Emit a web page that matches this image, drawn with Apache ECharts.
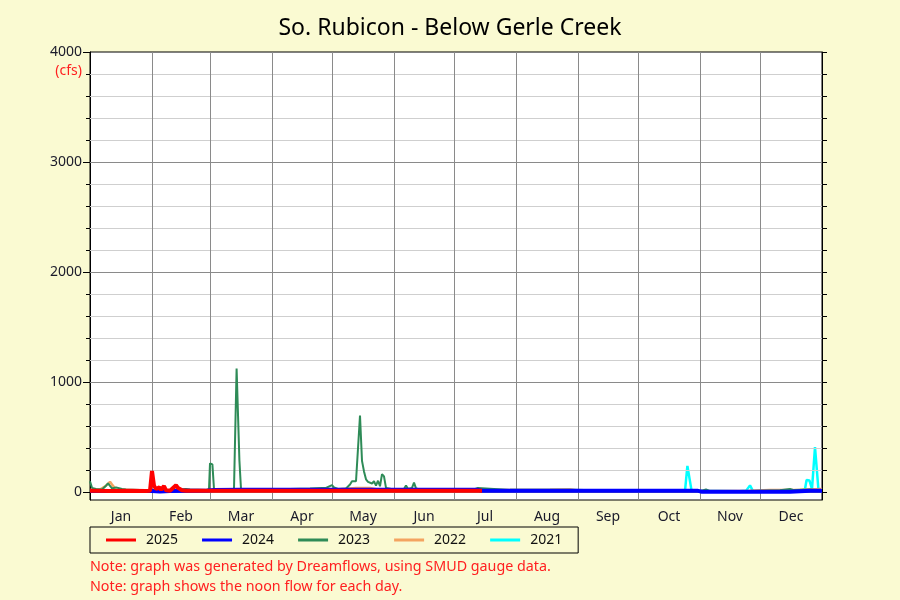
<!DOCTYPE html>
<html><head><meta charset="utf-8">
<script src="https://cdn.jsdelivr.net/npm/echarts@6/dist/echarts.min.js"></script>
<style>html,body{margin:0;padding:0;background:#fafad2}#c{width:900px;height:600px}</style>
</head><body><div id="c"></div>
<script>
const monthNames = ['Jan','Feb','Mar','Apr','May','Jun','Jul','Aug','Sep','Oct','Nov','Dec'];
const monthStarts = [0,31,60,91,121,152,182,213,244,274,305,335,366];
const monthMids = [15.5,45.5,75.5,106,136.5,167,197.5,228.5,259,289.5,320,350.5];
const yLabelValues = [0,1000,2000,3000,4000];
const yMinorValues = [0,200,400,600,800,1000,1200,1400,1600,1800,2000,2200,2400,2600,2800,3000,3200,3400,3600,3800,4000];
const seriesNames = ['2025','2024','2023','2022','2021'];

const days2025 = [0,10,20,28,30,31,32,33,34.7,35.5,37,38,40,43,44,46,48,55,59,70,90,120,150,170,196];
const flow2025 = [13,12,13,12,14,193,60,30,45,22,57,18,14,63,40,18,14,13,14,13,13,13,13,13,13];

const days2024 = [0,20,31,35,40,59,62,75,90,120,150,180,194,196,230,260,290,304,306,320,335,350,360,366];
const flow2024 = [12,11,12,8,12,16,20,23,23,23,22,22,22,14,14,13,13,13,5,4,5,6,14,14];

const days2023 = [0,1,3,6,8,9,11,13,16,18,25,40,48,50,58,59.5,60,61.2,62,64,68,69,70,72,73.3,74.2,74.7,75.5,80,90,100,110,116,117,118,121,122,124,128,130,131,132,133,134,135,136,137,138,139,140,141,142,143,144,145,146,147,148,149,152,157,158,159,161,162,163,165,170,180,192,194,195,210,240,270,300,305,308,310,330,345,350,352,360,366];
const flow2023 = [100,40,30,25,60,80,35,45,30,25,20,20,30,25,20,30,263,254,30,25,30,40,25,30,1125,1115,290,30,25,30,30,35,40,55,40,66,45,30,35,70,100,90,100,90,698,285,190,118,95,95,80,100,60,105,55,165,145,40,25,25,30,63,30,40,88,35,25,25,22,25,40,25,22,22,15,12,10,25,10,12,18,30,20,25,15];

const days2022 = [0,5,8,10,11,13,20,60,120,133,140,145,200,230,240,243,300,330,340,355,366];
const flow2022 = [20,25,60,95,70,25,18,18,20,40,40,20,20,22,25,18,12,14,20,22,30];

const days2021 = [0,60,180,240,295,297.5,298.7,299.7,300.8,325,328,330,331.5,350,356,357.5,358.3,359.7,361,361.8,362.5,363.3,364.2,366];
const flow2021 = [12,12,10,10,12,13,240,232,13,10,13,63,10,12,18,30,112,108,30,40,411,408,30,25];

const pairs = (d, v) => d.map((x, i) => [x, v[i]]);

const notes = [
  'Note: graph was generated by Dreamflows, using SMUD gauge data.',
  'Note: graph shows the noon flow for each day.'
];
const FONT = 'Noto Sans';

const gridLines = [];
yMinorValues.forEach(v => {
  if (v === 4000) return;
  gridLines.push({ yAxis: v, lineStyle: { color: v % 1000 === 0 ? '#8a8a8a' : '#cfcfcf', width: 1, type: 'solid' } });
});
monthStarts.forEach(d => {
  if (d === 0 || d === 366) return;
  gridLines.push({ xAxis: d, lineStyle: { color: '#8a8a8a', width: 1, type: 'solid' } });
});

const lineSeries = (name, data, color, width, z) => ({
  name, type: 'line', data, showSymbol: false, symbol: 'none', z,
  lineStyle: { color, width }, itemStyle: { color }, animation: false,
  xAxisIndex: 0, yAxisIndex: 0
});

const chart = echarts.init(document.getElementById('c'), null, { renderer: 'canvas' });
chart.setOption({
  backgroundColor: '#fafad2',
  animation: false,
  textStyle: { fontFamily: FONT },
  title: {
    text: 'So. Rubicon - Below Gerle Creek', left: 'center', top: 12,
    textStyle: { fontFamily: FONT, fontSize: 23, fontWeight: 'normal', color: '#000' }
  },
  grid: { left: 90, right: 78, top: 52, bottom: 100, show: true, backgroundColor: '#ffffff', borderColor: '#000', borderWidth: 1 },
  legend: {
    left: 90, top: 527, orient: 'horizontal',
    padding: [6, 16, 6, 16], itemGap: 24, itemWidth: 30, itemHeight: 3, icon: 'rect',
    borderColor: '#000', borderWidth: 1, borderRadius: 0,
    textStyle: { fontFamily: FONT, fontSize: 14, color: '#111', padding: [0, 0, 0, 5] },
    data: seriesNames
  },
  xAxis: [{
    type: 'value', min: 0, max: 366,
    axisLine: { show: true, lineStyle: { color: '#000', width: 1 } },
    axisTick: { show: true, customValues: monthStarts, length: 6, lineStyle: { color: '#000' } },
    axisLabel: { show: true, customValues: monthMids, margin: 10, fontFamily: FONT, fontSize: 14, color: '#1a1a2a',
      formatter: v => monthNames[monthMids.indexOf(v)] || '' },
    splitLine: { show: false }
  }],
  yAxis: [{
    type: 'value', min: -70, max: 4000, position: 'left',
    axisLine: { show: true, lineStyle: { color: '#000', width: 1 } },
    axisTick: { show: true, customValues: yLabelValues, length: 7, lineStyle: { color: '#000' } },
    axisLabel: { show: true, customValues: yLabelValues, margin: 8, fontFamily: FONT, fontSize: 14, color: '#1a1a2a',
      formatter: v => String(v) },
    splitLine: { show: false }
  }, {
    type: 'value', min: -70, max: 4000, position: 'left',
    axisLine: { show: false },
    axisTick: { show: true, customValues: yMinorValues, length: 4, lineStyle: { color: '#000' } },
    axisLabel: { show: false },
    splitLine: { show: false }
  }, {
    type: 'value', min: -70, max: 4000, position: 'right',
    axisLine: { show: true, lineStyle: { color: '#000', width: 1 } },
    axisTick: { show: true, customValues: yMinorValues, length: 5, lineStyle: { color: '#000' } },
    axisLabel: { show: false },
    splitLine: { show: false }
  }],
  graphic: [
    { type: 'text', right: 818, top: 64, style: { text: '(cfs)', fill: '#ff2020', font: '14px "Noto Sans"', textAlign: 'right' } },
    { type: 'text', left: 90, top: 560, style: { text: notes[0], fill: '#ff2020', font: '14.3px "Noto Sans"' } },
    { type: 'text', left: 90, top: 580, style: { text: notes[1], fill: '#ff2020', font: '14.3px "Noto Sans"' } }
  ],
  series: [
    { name: 'grid', type: 'line', data: [], z: 1, silent: true,
      markLine: { silent: true, symbol: ['none', 'none'], label: { show: false }, animation: false, data: gridLines } },
    lineSeries('2021', pairs(days2021, flow2021), '#00ffff', 2.5, 3),
    lineSeries('2022', pairs(days2022, flow2022), '#f4a460', 2.5, 4),
    lineSeries('2023', pairs(days2023, flow2023), '#2e8b57', 2, 5),
    lineSeries('2024', pairs(days2024, flow2024), '#0000ff', 4, 6),
    lineSeries('2025', pairs(days2025, flow2025), '#ff0000', 4, 7)
  ]
});
</script></body></html>
